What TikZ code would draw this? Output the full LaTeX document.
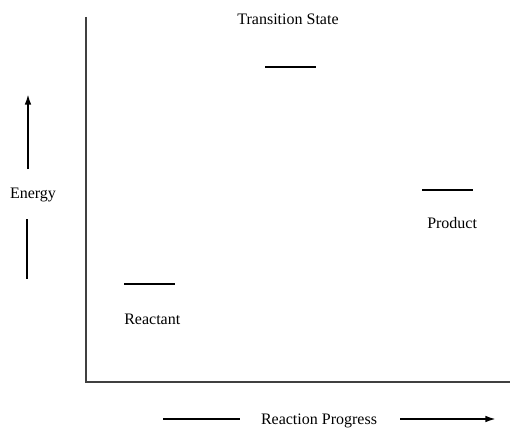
\documentclass[tikz,border=0pt]{standalone}
\usepackage{fontspec}
\setmainfont{Liberation Serif}
\usetikzlibrary{arrows.meta}
\begin{document}
\begin{tikzpicture}[x=0.75pt,y=-0.75pt,
  lbl/.style={inner sep=0pt,font=\fontsize{12}{14}\selectfont},
  level/.style={line width=1pt,black},
  axis/.style={line width=1.4pt,black!75},
  arr/.style={line width=1.4pt,-{Latex[length=8pt,width=5pt]}}]
\useasboundingbox (0,0) rectangle (510,428);
% axes
\coordinate (top) at (86,17);
\coordinate (origin) at (86,382);
\coordinate (right) at (510,382);
\draw[axis] (top) -- (origin) -- (right);
% levels
\coordinate (ts1) at (265,67); \coordinate (ts2) at (316,67);
\coordinate (re1) at (124,284); \coordinate (re2) at (175,284);
\coordinate (pr1) at (422,190); \coordinate (pr2) at (473,190);
\draw[level] (ts1) -- (ts2);
\draw[level] (re1) -- (re2);
\draw[level] (pr1) -- (pr2);
% labels
\node[lbl,anchor=base] (tsl) at (288,25) {Transition State};
\node[lbl,anchor=base west] (rel) at (124,324) {Reactant};
\node[lbl,anchor=base west] (prl) at (427,228) {Product};
\node[lbl,anchor=base] (en) at (33,198) {Energy};
\node[lbl,anchor=base] (rp) at (319,424) {Reaction Progress};
% energy arrow
\coordinate (ea1) at (28,169); \coordinate (ea2) at (28,94);
\coordinate (el1) at (27,219); \coordinate (el2) at (27,279);
\draw[arr] (ea1) -- (ea2);
\draw[line width=1pt] (el1) -- (el2);
% progress arrow
\coordinate (pl1) at (163,419); \coordinate (pl2) at (240,419);
\coordinate (pa1) at (400,419); \coordinate (pa2) at (496,419);
\draw[line width=1pt] (pl1) -- (pl2);
\draw[arr] (pa1) -- (pa2);
\end{tikzpicture}
\end{document}
